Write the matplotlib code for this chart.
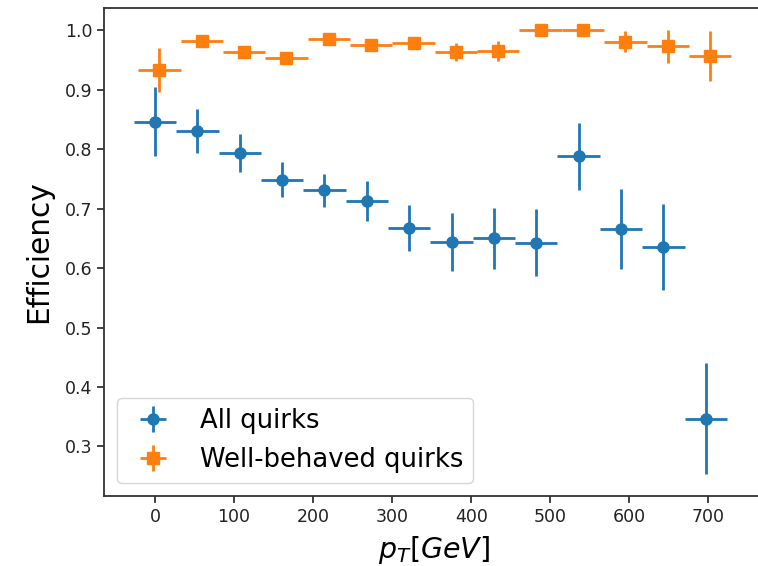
import numpy as np
import matplotlib
matplotlib.use("Agg")
import matplotlib.pyplot as plt

# bin centres in pT [GeV]
pt_all = [0, 53.6, 107.2, 160.8, 214.4, 268, 321.6, 375.2, 428.8, 482.4, 536, 589.6, 643.2, 696.8]
pt_good = [5.5, 59.1, 112.7, 166.3, 219.9, 273.5, 327.1, 380.7, 434.3, 487.9, 541.5, 595.1, 648.7, 702.3]
pt_halfwidth = [26.8] * 14

eff_all = [0.846, 0.830, 0.793, 0.749, 0.731, 0.713, 0.668, 0.644, 0.650, 0.643, 0.788, 0.666, 0.636, 0.347]
err_all = [0.058, 0.037, 0.032, 0.030, 0.028, 0.033, 0.039, 0.048, 0.052, 0.057, 0.057, 0.068, 0.072, 0.093]

eff_good = [0.933, 0.983, 0.963, 0.954, 0.985, 0.976, 0.978, 0.964, 0.965, 1.0, 1.0, 0.981, 0.973, 0.957]
err_good = [0.037, 0.006, 0.008, 0.008, 0.006, 0.008, 0.007, 0.015, 0.017, 0.004, 0.004, 0.018, 0.027, 0.042]

fig = plt.figure(figsize=(7.58, 5.66), dpi=100)
# axes run a little past the right edge, like the cropped original
ax = fig.add_axes([104 / 758, 70 / 566, 660 / 758, 488 / 566])

ax.errorbar(pt_all, eff_all, xerr=pt_halfwidth, yerr=err_all, fmt='o',
            color='#1f77b4', markersize=8, elinewidth=2, label='All quirks')
ax.errorbar(pt_good, eff_good, xerr=pt_halfwidth, yerr=err_good, fmt='s',
            color='#ff7f0e', markersize=8, elinewidth=2, label='Well-behaved quirks')

ax.set_xlim(-64.5, 770.5)
ax.set_ylim(0.2167, 1.0377)
ax.set_xticks(np.arange(0, 800, 100))
ax.set_yticks(np.arange(0.3, 1.05, 0.1))
ax.tick_params(labelsize=12.5, length=5, width=1.2, colors='#222222')
for s in ax.spines.values():
    s.set_linewidth(1.3)
    s.set_color('#333333')
ax.spines['right'].set_visible(False)

ax.set_xlabel('$p_T[GeV]$', fontsize=20.5, labelpad=6)
ax.set_ylabel('Efficiency', fontsize=21.3, labelpad=8)
ax.legend(loc='lower left', fontsize=18.6)

fig.savefig('out.png', dpi=100)
